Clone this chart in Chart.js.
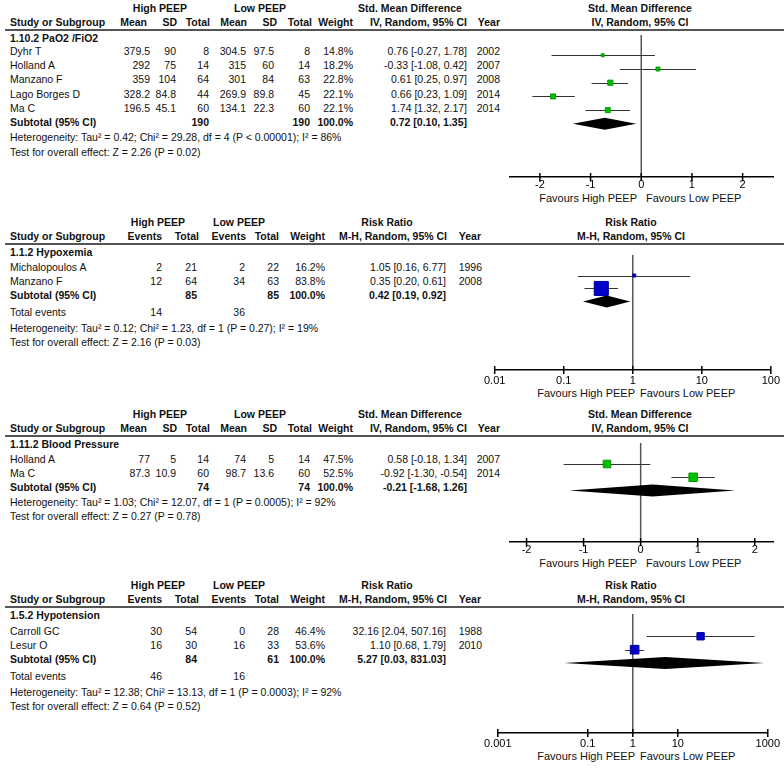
<!DOCTYPE html>
<html>
<head>
<meta charset="utf-8">
<script src="https://cdn.jsdelivr.net/npm/chart.js@4.4.1/dist/chart.umd.min.js"></script>
<style>
body { margin: 0; background: #fff; width: 784px; height: 770px; position: relative; overflow: hidden;
       font-family: "Liberation Sans", Arial, sans-serif; font-size: 10.5px; color: #111; }
.t { position: absolute; white-space: nowrap; line-height: 14px; height: 14px; }
.rule { position: absolute; left: 5px; right: 0; height: 1.5px; background: #555; }
canvas { position: absolute; }
</style>
</head>
<body>
<script>
// ---- 1.10.2 PaO2 /FiO2 (Std. Mean Difference) ----
const pao2Studies = ['Dyhr T', 'Holland A', 'Manzano F', 'Lago Borges D', 'Ma C'];
const pao2HiMean = ['379.5', '292', '359', '328.2', '196.5'];
const pao2HiSD = ['90', '75', '104', '84.8', '45.1'];
const pao2HiN = ['8', '14', '64', '44', '60'];
const pao2LoMean = ['304.5', '315', '301', '269.9', '134.1'];
const pao2LoSD = ['97.5', '60', '84', '89.8', '22.3'];
const pao2LoN = ['8', '14', '63', '45', '60'];
const pao2Weight = [14.8, 18.2, 22.8, 22.1, 22.1];
const pao2CI = ['0.76 [-0.27, 1.78]', '-0.33 [-1.08, 0.42]', '0.61 [0.25, 0.97]', '0.66 [0.23, 1.09]', '1.74 [1.32, 2.17]'];
const pao2Year = ['2002', '2007', '2008', '2014', '2014'];
const pao2Subtotal = ['190', '190', '100.0%', '0.72 [0.10, 1.35]'];
const pao2Het = 'Heterogeneity: Tau² = 0.42; Chi² = 29.28, df = 4 (P < 0.00001); I² = 86%';
const pao2Test = 'Test for overall effect: Z = 2.26 (P = 0.02)';
// plotted marks as drawn in the figure
const pao2Est = [-0.76, 0.33, -0.61, -1.74, -0.66];
const pao2Lo = [-1.77, -0.42, -0.98, -2.15, -1.10];
const pao2Hi = [0.27, 1.08, -0.26, -1.31, -0.22];
const pao2Pooled = [-1.35, -0.72, -0.10];

// ---- 1.1.2 Hypoxemia (Risk Ratio) ----
const hypoxStudies = ['Michalopoulos A', 'Manzano F'];
const hypoxHiEv = ['2', '12'];
const hypoxHiN = ['21', '64'];
const hypoxLoEv = ['2', '34'];
const hypoxLoN = ['22', '63'];
const hypoxWeight = [16.2, 83.8];
const hypoxCI = ['1.05 [0.16, 6.77]', '0.35 [0.20, 0.61]'];
const hypoxYear = ['1996', '2008'];
const hypoxSubtotal = ['85', '85', '100.0%', '0.42 [0.19, 0.92]'];
const hypoxEvents = ['14', '36'];
const hypoxHet = 'Heterogeneity: Tau² = 0.12; Chi² = 1.23, df = 1 (P = 0.27); I² = 19%';
const hypoxTest = 'Test for overall effect: Z = 2.16 (P = 0.03)';
const hypoxEst = [1.05, 0.35];
const hypoxLo = [0.16, 0.20];
const hypoxHi = [6.77, 0.61];
const hypoxPooled = [0.19, 0.42, 0.92];

// ---- 1.11.2 Blood Pressure (Std. Mean Difference) ----
const bpStudies = ['Holland A', 'Ma C'];
const bpHiMean = ['77', '87.3'];
const bpHiSD = ['5', '10.9'];
const bpHiN = ['14', '60'];
const bpLoMean = ['74', '98.7'];
const bpLoSD = ['5', '13.6'];
const bpLoN = ['14', '60'];
const bpWeight = [47.5, 52.5];
const bpCI = ['0.58 [-0.18, 1.34]', '-0.92 [-1.30, -0.54]'];
const bpYear = ['2007', '2014'];
const bpSubtotal = ['74', '74', '100.0%', '-0.21 [-1.68, 1.26]'];
const bpHet = 'Heterogeneity: Tau² = 1.03; Chi² = 12.07, df = 1 (P = 0.0005); I² = 92%';
const bpTest = 'Test for overall effect: Z = 0.27 (P = 0.78)';
const bpEst = [-0.59, 0.92];
const bpLo = [-1.35, 0.54];
const bpHi = [0.17, 1.30];
const bpPooled = [-1.25, 0.21, 1.66];

// ---- 1.5.2 Hypotension (Risk Ratio) ----
const hypoStudies = ['Carroll GC', 'Lesur O'];
const hypoHiEv = ['30', '16'];
const hypoHiN = ['54', '30'];
const hypoLoEv = ['0', '16'];
const hypoLoN = ['28', '33'];
const hypoWeight = [46.4, 53.6];
const hypoCI = ['32.16 [2.04, 507.16]', '1.10 [0.68, 1.79]'];
const hypoYear = ['1988', '2010'];
const hypoSubtotal = ['84', '61', '100.0%', '5.27 [0.03, 831.03]'];
const hypoEvents = ['46', '16'];
const hypoHet = 'Heterogeneity: Tau² = 12.38; Chi² = 13.13, df = 1 (P = 0.0003); I² = 92%';
const hypoTest = 'Test for overall effect: Z = 0.64 (P = 0.52)';
const hypoEst = [32.16, 1.10];
const hypoLo = [2.04, 0.68];
const hypoHi = [507.16, 1.79];
const hypoPooled = [0.03, 5.27, 831.03];

// axis ticks
const smdTicks = [-2, -1, 0, 1, 2];
const hypoxTicks = [0.01, 0.1, 1, 10, 100];
const hypoTicks = [0.001, 0.1, 1, 10, 1000];

// --- layout ---
const W = 784;
const ROW_H = 14.2;
const FONT = '"Liberation Sans", Arial, sans-serif';

function addText(x, y, s, opt = {}) {
    const d = document.createElement('div');
    d.className = 't';
    d.textContent = s;
    d.style.top = (y - 7) + 'px';
    if (opt.bold) d.style.fontWeight = 'bold';
    if (opt.size) d.style.fontSize = opt.size + 'px';
    if (opt.align === 'right') d.style.right = (W - x) + 'px';
    else if (opt.align === 'center') {
        d.style.left = x + 'px';
        d.style.transform = 'translateX(-50%)';
    }
    else d.style.left = x + 'px';
    document.body.appendChild(d);
}

function addRule(y) {
    const r = document.createElement('div');
    r.className = 'rule';
    r.style.top = (y - 0.75) + 'px';
    document.body.appendChild(r);
}

// SMD table: Mean SD Total | Mean SD Total | Weight | CI | Year
function smdTable(p) {
    const R = p.ruleY;
    addText(160, R - 22, 'High PEEP', { bold: true, align: 'center' });
    addText(260, R - 22, 'Low PEEP', { bold: true, align: 'center' });
    addText(410, R - 22, 'Std. Mean Difference', { bold: true, align: 'center' });
    addText(10, R - 8, 'Study or Subgroup', { bold: true });
    [['Mean', 147], ['SD', 177], ['Total', 210], ['Mean', 247], ['SD', 277], ['Total', 312],
     ['Weight', 353], ['IV, Random, 95% CI', 467], ['Year', 500]]
        .forEach(([s, x]) => addText(x, R - 8, s, { bold: true, align: 'right' }));
    addRule(R);
    addText(10, R + 7.5, p.section, { bold: true });
    const cols = [150, 176, 209, 246, 274, 310, 353, 467, 500];
    p.studies.forEach((name, i) => {
        const y = p.firstY + i * ROW_H;
        addText(10, y, name);
        const vals = [p.hiMean[i], p.hiSD[i], p.hiN[i], p.loMean[i], p.loSD[i], p.loN[i],
                      p.weight[i].toFixed(1) + '%', p.ci[i], p.year[i]];
        vals.forEach((v, k) => addText(cols[k], y, v, { align: 'right' }));
    });
    const ys = p.firstY + p.studies.length * ROW_H;
    addText(10, ys, 'Subtotal (95% CI)', { bold: true });
    [cols[2], cols[5], cols[6], cols[7]].forEach((x, k) => addText(x, ys, p.subtotal[k], { bold: true, align: 'right' }));
    addText(10, ys + 15, p.het);
    addText(10, ys + 29.5, p.test);
}

// RR table: Events Total | Events Total | Weight | CI | Year
function rrTable(p) {
    const R = p.ruleY;
    addText(158, R - 22, 'High PEEP', { bold: true, align: 'center' });
    addText(239, R - 22, 'Low PEEP', { bold: true, align: 'center' });
    addText(387, R - 22, 'Risk Ratio', { bold: true, align: 'center' });
    addText(10, R - 8, 'Study or Subgroup', { bold: true });
    [['Events', 162], ['Total', 199], ['Events', 246], ['Total', 279], ['Weight', 325],
     ['M-H, Random, 95% CI', 447], ['Year', 481]]
        .forEach(([s, x]) => addText(x, R - 8, s, { bold: true, align: 'right' }));
    addRule(R);
    addText(10, R + 7.5, p.section, { bold: true });
    const cols = [162, 197, 245, 279, 325, 446, 482];
    p.studies.forEach((name, i) => {
        const y = p.firstY + i * ROW_H;
        addText(10, y, name);
        const vals = [p.hiEv[i], p.hiN[i], p.loEv[i], p.loN[i], p.weight[i].toFixed(1) + '%', p.ci[i], p.year[i]];
        vals.forEach((v, k) => addText(cols[k], y, v, { align: 'right' }));
    });
    const ys = p.firstY + p.studies.length * ROW_H;
    addText(10, ys, 'Subtotal (95% CI)', { bold: true });
    [cols[1], cols[3], cols[4], cols[5]].forEach((x, k) => addText(x, ys, p.subtotal[k], { bold: true, align: 'right' }));
    addText(10, ys + 17, 'Total events');
    addText(cols[0], ys + 17, p.events[0], { align: 'right' });
    addText(cols[2], ys + 17, p.events[1], { align: 'right' });
    addText(10, ys + 33, p.het);
    addText(10, ys + 47, p.test);
}

function forestChart(p) {
    const R = p.ruleY;
    const plotH = p.axisY - R;
    const center = p.log ? 631 : 640;
    addText(center, R - 22, p.log ? 'Risk Ratio' : 'Std. Mean Difference', { bold: true, align: 'center' });
    addText(center, R - 8, p.log ? 'M-H, Random, 95% CI' : 'IV, Random, 95% CI', { bold: true, align: 'center' });
    addText(p.favX[0], p.axisY + p.favDy, 'Favours High PEEP', { align: 'right', size: 11 });
    addText(p.favX[1], p.axisY + p.favDy, 'Favours Low PEEP', { size: 11 });

    const canvas = document.createElement('canvas');
    canvas.width = 304;
    canvas.height = plotH + 30;
    canvas.style.left = '480px';
    canvas.style.top = R + 'px';
    document.body.appendChild(canvas);

    const yMin = -(p.firstY - R) / ROW_H;
    const yMax = yMin + plotH / ROW_H;
    const n = p.est.length;

    const forestMarks = {
        id: 'forestMarks',
        beforeDatasetsDraw(chart) {
            const { ctx, chartArea: a, scales: { x, y } } = chart;
            ctx.save();
            // line of no effect
            const x0 = x.getPixelForValue(p.log ? 1 : 0);
            ctx.strokeStyle = '#555';
            ctx.lineWidth = 1.5;
            ctx.beginPath();
            ctx.moveTo(x0, a.top);
            ctx.lineTo(x0, a.bottom);
            ctx.stroke();
            // tick marks crossing the axis
            ctx.strokeStyle = '#000';
            x.ticks.forEach(t => {
                const tx = x.getPixelForValue(t.value);
                ctx.beginPath();
                ctx.moveTo(tx, a.bottom - 4);
                ctx.lineTo(tx, a.bottom + 4);
                ctx.stroke();
            });
            // confidence intervals
            ctx.strokeStyle = '#333';
            ctx.lineWidth = 1;
            for (let i = 0; i < n; i++) {
                const yy = Math.round(y.getPixelForValue(i)) + 0.5;
                ctx.beginPath();
                ctx.moveTo(x.getPixelForValue(p.lo[i]), yy);
                ctx.lineTo(x.getPixelForValue(p.hi[i]), yy);
                ctx.stroke();
            }
            // pooled diamond
            const yd = y.getPixelForValue(n);
            ctx.fillStyle = '#000';
            ctx.beginPath();
            ctx.moveTo(x.getPixelForValue(p.pooled[0]), yd);
            ctx.lineTo(x.getPixelForValue(p.pooled[1]), yd - 6);
            ctx.lineTo(x.getPixelForValue(p.pooled[2]), yd);
            ctx.lineTo(x.getPixelForValue(p.pooled[1]), yd + 6);
            ctx.closePath();
            ctx.fill();
            ctx.restore();
        }
    };

    new Chart(canvas, {
        type: 'scatter',
        data: {
            datasets: [{
                data: p.est.map((v, i) => ({ x: v, y: i })),
                pointStyle: 'rect',
                pointRadius: p.weight.map(w => Math.max(3, w * p.boxScale - 1) / Math.SQRT2),
                backgroundColor: p.fill,
                borderColor: p.edge,
                borderWidth: 1
            }]
        },
        options: {
            responsive: false,
            animation: false,
            events: [],
            layout: { padding: { left: p.padL, right: 11, top: 0, bottom: 0 } },
            plugins: { legend: { display: false }, tooltip: { enabled: false } },
            scales: {
                x: {
                    type: p.log ? 'logarithmic' : 'linear',
                    min: p.min,
                    max: p.max,
                    afterBuildTicks: s => { s.ticks = p.ticks.map(v => ({ value: v })); },
                    afterFit: s => { s.height = 30; },
                    grid: { display: false, drawTicks: false, tickLength: 0 },
                    border: { display: true, color: '#000', width: 1.5 },
                    ticks: {
                        padding: p.log ? 4 : 1.5,
                        color: '#000',
                        font: { family: FONT, size: 11 },
                        maxRotation: 0,
                        autoSkip: false,
                        callback: v => String(v)
                    }
                },
                y: { type: 'linear', display: false, reverse: true, min: yMin, max: yMax }
            }
        },
        plugins: [forestMarks]
    });
}

const GREEN = '#00c000', GREEN_EDGE = '#009a00';
const BLUE = '#0000c8', BLUE_EDGE = '#00009a';

smdTable({
    ruleY: 30, firstY: 51, section: '1.10.2 PaO2 /FiO2',
    studies: pao2Studies, hiMean: pao2HiMean, hiSD: pao2HiSD, hiN: pao2HiN,
    loMean: pao2LoMean, loSD: pao2LoSD, loN: pao2LoN, weight: pao2Weight,
    ci: pao2CI, year: pao2Year, subtotal: pao2Subtotal, het: pao2Het, test: pao2Test
});
forestChart({
    ruleY: 30, firstY: 51, axisY: 177, log: false, min: -2.59, max: 2.6, padL: 30,
    ticks: smdTicks, est: pao2Est, lo: pao2Lo, hi: pao2Hi, pooled: pao2Pooled,
    weight: pao2Weight, boxScale: 0.27, fill: GREEN, edge: GREEN_EDGE,
    favX: [637, 646], favDy: 21
});

rrTable({
    ruleY: 244, firstY: 266.5, section: '1.1.2 Hypoxemia',
    studies: hypoxStudies, hiEv: hypoxHiEv, hiN: hypoxHiN, loEv: hypoxLoEv, loN: hypoxLoN,
    weight: hypoxWeight, ci: hypoxCI, year: hypoxYear, subtotal: hypoxSubtotal,
    events: hypoxEvents, het: hypoxHet, test: hypoxTest
});
forestChart({
    ruleY: 244, firstY: 266.5, axisY: 370, log: true, min: 0.01, max: 100, padL: 12,
    ticks: hypoxTicks, est: hypoxEst, lo: hypoxLo, hi: hypoxHi, pooled: hypoxPooled,
    weight: hypoxWeight, boxScale: 0.18, fill: BLUE, edge: BLUE_EDGE,
    favX: [635, 640], favDy: 23
});

smdTable({
    ruleY: 436, firstY: 458.5, section: '1.11.2 Blood Pressure',
    studies: bpStudies, hiMean: bpHiMean, hiSD: bpHiSD, hiN: bpHiN,
    loMean: bpLoMean, loSD: bpLoSD, loN: bpLoN, weight: bpWeight,
    ci: bpCI, year: bpYear, subtotal: bpSubtotal, het: bpHet, test: bpTest
});
forestChart({
    ruleY: 436, firstY: 458.5, axisY: 542, log: false, min: -2.29, max: 2.32, padL: 30,
    ticks: smdTicks, est: bpEst, lo: bpLo, hi: bpHi, pooled: bpPooled,
    weight: bpWeight, boxScale: 0.18, fill: GREEN, edge: GREEN_EDGE,
    favX: [637, 646], favDy: 21
});

rrTable({
    ruleY: 607, firstY: 630.5, section: '1.5.2 Hypotension',
    studies: hypoStudies, hiEv: hypoHiEv, hiN: hypoHiN, loEv: hypoLoEv, loN: hypoLoN,
    weight: hypoWeight, ci: hypoCI, year: hypoYear, subtotal: hypoSubtotal,
    events: hypoEvents, het: hypoHet, test: hypoTest
});
forestChart({
    ruleY: 607, firstY: 630.5, axisY: 733, log: true, min: 0.001, max: 1000, padL: 12,
    ticks: hypoTicks, est: hypoEst, lo: hypoLo, hi: hypoHi, pooled: hypoPooled,
    weight: hypoWeight, boxScale: 0.18, fill: BLUE, edge: BLUE_EDGE,
    favX: [635, 640], favDy: 23
});
</script>
</body>
</html>
